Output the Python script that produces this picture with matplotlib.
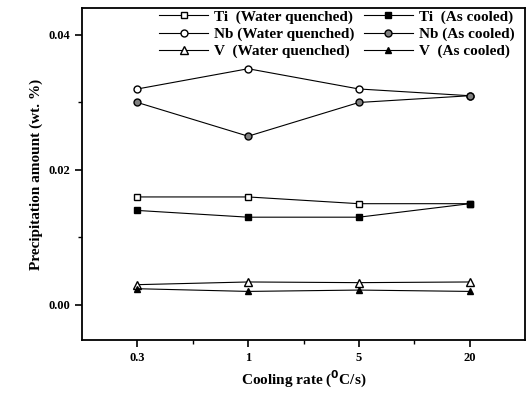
import numpy as np
import matplotlib.pyplot as plt
from matplotlib.ticker import FixedLocator

plt.rcParams['font.family'] = ['Liberation Serif', 'DejaVu Serif']
plt.rcParams['font.weight'] = 'bold'

rates = ['0.3', '1', '5', '20']
ti_wq = [0.016, 0.016, 0.015, 0.015]
ti_ac = [0.014, 0.013, 0.013, 0.015]
nb_wq = [0.032, 0.035, 0.032, 0.031]
nb_ac = [0.030, 0.025, 0.030, 0.031]
v_wq = [0.0030, 0.0034, 0.0033, 0.0034]
v_ac = [0.0024, 0.0020, 0.0022, 0.0020]

x = np.arange(1, len(rates) + 1)

fig = plt.figure(figsize=(5.29, 3.97), dpi=100)
ax = fig.add_axes([82 / 529, 57 / 397, 443 / 529, 332 / 397])

lw = 0.8
ms = 5
h1, = ax.plot(x, ti_wq, '-s', color='black', mfc='white', lw=lw, ms=ms, label='Ti  (Water quenched)')
h2, = ax.plot(x, ti_ac, '-s', color='black', mfc='black', lw=lw, ms=ms - 1, label='Ti  (As cooled)')
h3, = ax.plot(x, nb_wq, '-o', color='black', mfc='white', lw=lw, ms=ms, label='Nb (Water quenched)')
h4, = ax.plot(x, nb_ac, '-o', color='black', mfc='#808080', lw=lw, ms=ms, label='Nb (As cooled)')
h5, = ax.plot(x, v_wq, '-^', color='black', mfc='white', lw=lw, ms=ms + 1, label='V  (Water quenched)')
h6, = ax.plot(x, v_ac, '-^', color='black', mfc='black', lw=lw, ms=ms, label='V  (As cooled)')

ax.set_xlim(0.5, 4.5)
ax.set_ylim(-0.0052, 0.044)
ax.set_xticks(x)
ax.set_xticklabels(rates)
ax.xaxis.set_minor_locator(FixedLocator(x[:-1] + 0.5))
ax.set_yticks([0.00, 0.02, 0.04])
ax.set_yticklabels(['0.00', '0.02', '0.04'])
ax.yaxis.set_minor_locator(FixedLocator([0.01, 0.03]))
ax.tick_params(which='both', direction='out', labelsize=9)
ax.tick_params(which='major', length=5, width=1.2)
ax.tick_params(which='minor', length=3, width=1)
for s in ax.spines.values():
    s.set_linewidth(1.3)

ax.set_xlabel('Cooling rate ($^{\\mathbf{0}}$C/s)', fontsize=11, fontweight='bold')
ax.set_ylabel('Precipitation amount (wt. %)', fontsize=11, fontweight='bold')

handles = [h1, h3, h5, h2, h4, h6]
ax.legend(handles=handles, labels=[h.get_label() for h in handles],
          ncol=2, loc='upper right', frameon=False, fontsize=11,
          handlelength=3.2, columnspacing=0.6, handletextpad=0.4,
          labelspacing=0.22, borderaxespad=0.0, bbox_to_anchor=(0.99, 1.012))

fig.savefig('out.png', dpi=100)
